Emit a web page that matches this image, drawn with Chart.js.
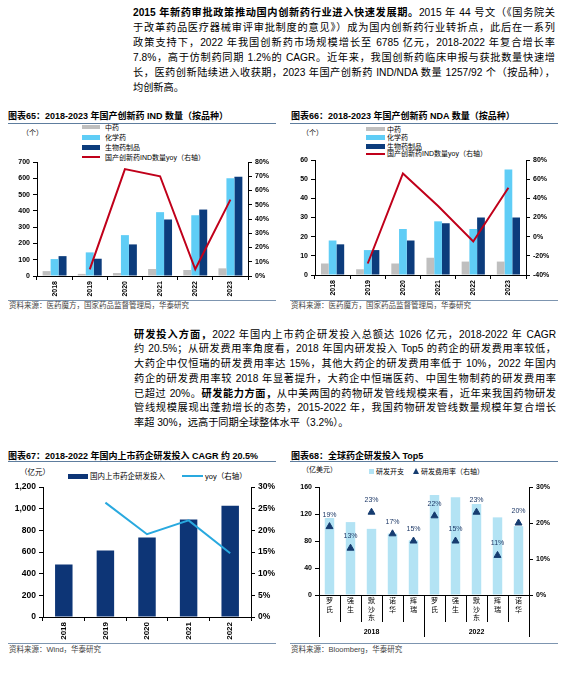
<!DOCTYPE html>
<html><head><meta charset="utf-8">
<script src="https://cdn.jsdelivr.net/npm/chart.js@4/dist/chart.umd.min.js"></script>
<style>
html,body{margin:0;padding:0;background:#fff;}
body{width:586px;height:681px;position:relative;overflow:hidden;font-family:'Liberation Sans','Noto Sans CJK SC',sans-serif;color:#000;}
.para{position:absolute;font-size:10.2px;}
.para div{height:15px;line-height:15px;text-align:justify;text-align-last:justify;}
.para div.last{text-align-last:left;}
.title{position:absolute;font-size:9px;font-weight:bold;white-space:nowrap;line-height:11px;}
.tline{position:absolute;height:1.5px;background:#5e7d9e;width:268px;}
.sline{position:absolute;height:1px;background:#7d95b0;width:268px;}
.src{position:absolute;font-size:7.5px;color:#444;white-space:nowrap;line-height:9px;}
.leg{position:absolute;font-size:7px;white-space:nowrap;line-height:9px;}
.sw{position:absolute;}
canvas{position:absolute;}
</style></head>
<body>
<div class="para" style="left:133px;top:4.5px;width:422px;">
<div><b>2015 年新药审批政策推动国内创新药行业进入快速发展期。</b>2015 年 44 号文（《国务院关</div>
<div>于改革药品医疗器械审评审批制度的意见》）成为国内创新药行业转折点，此后在一系列</div>
<div>政策支持下，2022 年我国创新药市场规模增长至 6785 亿元，2018-2022 年复合增长率</div>
<div>7.8%，高于仿制药同期 1.2%的 CAGR。近年来，我国创新药临床申报与获批数量快速增</div>
<div>长，医药创新陆续进入收获期，2023 年国产创新药 IND/NDA 数量 1257/92 个（按品种），</div>
<div class="last">均创新高。</div>
</div>

<div class="para" style="left:134px;top:327.5px;width:422px;">
<div style="height:14.8px;line-height:14.8px;"><b>研发投入方面，</b>2022 年国内上市药企研发投入总额达 1026 亿元，2018-2022 年 CAGR</div>
<div style="height:14.8px;line-height:14.8px;">约 20.5%；从研发费用率角度看，2018 年国内研发投入 Top5 的药企的研发费用率较低，</div>
<div style="height:14.8px;line-height:14.8px;">大药企中仅恒瑞的研发费用率达 15%，其他大药企的研发费用率低于 10%，2022 年国内</div>
<div style="height:14.8px;line-height:14.8px;">药企的研发费用率较 2018 年显著提升，大药企中恒瑞医药、中国生物制药的研发费用率</div>
<div style="height:14.8px;line-height:14.8px;">已超过 20%。<b>研发能力方面，</b>从中美两国的药物研发管线规模来看，近年来我国药物研发</div>
<div style="height:14.8px;line-height:14.8px;">管线规模展现出蓬勃增长的态势，2015-2022 年，我国药物研发管线数量规模年复合增长</div>
<div class="last" style="height:14.8px;line-height:14.8px;">率超 30%，远高于同期全球整体水平（3.2%）。</div>
</div>

<!-- Chart 65 frame -->
<div class="title" style="left:8px;top:110.5px;">图表65：2018-2023 年国产创新药 IND 数量（按品种）</div>
<div class="tline" style="left:8px;top:122.5px;"></div>
<div class="sline" style="left:8px;top:299.5px;"></div>
<div class="src" style="left:9px;top:301px;">资料来源：医药魔方，国家药品监督管理局，华泰研究</div>
<div class="leg" style="left:22px;top:127.5px;">（个）</div>
<div class="sw" style="left:82px;top:125px;width:18px;height:4px;background:#bfbfbf;"></div>
<div class="leg" style="left:105px;top:122.5px;">中药</div>
<div class="sw" style="left:82px;top:134.5px;width:18px;height:5px;background:#5fcdf6;"></div>
<div class="leg" style="left:105px;top:132.5px;">化学药</div>
<div class="sw" style="left:82px;top:144.5px;width:18px;height:5px;background:#0c3c7c;"></div>
<div class="leg" style="left:105px;top:142.5px;">生物药制品</div>
<div class="sw" style="left:82px;top:156px;width:18px;height:2px;background:#c0001a;"></div>
<div class="leg" style="left:105px;top:152.5px;">国产创新药IND数量yoy（右轴）</div>
<canvas id="c65" width="290" height="175" style="left:0px;top:125px;width:290px;height:175px;"></canvas>

<!-- Chart 66 frame -->
<div class="title" style="left:291px;top:110.5px;">图表66：2018-2023 年国产创新药 NDA 数量（按品种）</div>
<div class="tline" style="left:290px;top:122.5px;"></div>
<div class="sline" style="left:290px;top:299.5px;"></div>
<div class="src" style="left:291px;top:301px;">资料来源：医药魔方，国家药品监督管理局，华泰研究</div>
<div class="leg" style="left:302px;top:127.5px;">（个）</div>
<div class="sw" style="left:366px;top:127px;width:19px;height:4px;background:#bfbfbf;"></div>
<div class="leg" style="left:387px;top:124.5px;">中药</div>
<div class="sw" style="left:366px;top:135px;width:19px;height:5px;background:#5fcdf6;"></div>
<div class="leg" style="left:387px;top:133px;">化学药</div>
<div class="sw" style="left:366px;top:143.5px;width:19px;height:5px;background:#0c3c7c;"></div>
<div class="leg" style="left:387px;top:141.5px;">生物药制品</div>
<div class="sw" style="left:366px;top:152.5px;width:19px;height:2px;background:#c0001a;"></div>
<div class="leg" style="left:387px;top:149px;">国产创新药IND数量yoy（右轴）</div>
<canvas id="c66" width="296" height="175" style="left:290px;top:125px;width:296px;height:175px;"></canvas>

<!-- Chart 67 frame -->
<div class="title" style="left:8px;top:450.5px;">图表67：2018-2022 年国内上市药企研发投入 CAGR 约 20.5%</div>
<div class="tline" style="left:8px;top:460.5px;"></div>
<div class="sline" style="left:8px;top:642.5px;"></div>
<div class="src" style="left:9px;top:644.5px;">资料来源：Wind，华泰研究</div>
<div class="leg" style="left:20px;top:467.5px;font-size:7.5px;">（亿元）</div>
<div class="sw" style="left:68px;top:473.5px;width:20px;height:5px;background:#0d3576;"></div>
<div class="leg" style="left:90px;top:471.5px;font-size:7.5px;">国内上市药企研发投入</div>
<div class="sw" style="left:182px;top:475px;width:21px;height:2px;background:#29a9df;"></div>
<div class="leg" style="left:205px;top:471.5px;font-size:7.5px;">yoy（右轴）</div>
<canvas id="c67" width="290" height="179" style="left:0px;top:463px;width:290px;height:179px;"></canvas>

<!-- Chart 68 frame -->
<div class="title" style="left:291px;top:450.5px;">图表68：全球药企研发投入 Top5</div>
<div class="tline" style="left:290px;top:460.5px;"></div>
<div class="sline" style="left:290px;top:642.5px;"></div>
<div class="src" style="left:291px;top:644.5px;">资料来源：Bloomberg，华泰研究</div>
<div class="leg" style="left:302px;top:464.5px;">（亿美元）</div>
<div class="sw" style="left:369px;top:468.5px;width:5px;height:5px;background:#b3e3f4;"></div>
<div class="leg" style="left:376px;top:466.5px;">研发开支</div>
<div class="sw" style="left:413px;top:468px;width:0;height:0;border-left:3.5px solid transparent;border-right:3.5px solid transparent;border-bottom:6px solid #163c70;"></div>
<div class="leg" style="left:421px;top:466.5px;">研发费用率（右轴）</div>
<canvas id="c68" width="296" height="179" style="left:290px;top:463px;width:296px;height:179px;"></canvas>

<script>
// ---------- data ----------
const years65 = ['2018','2019','2020','2021','2022','2023'];
const tcm65  = [30, 13, 18, 43, 37, 47];
const chem65 = [104, 145, 251, 392, 373, 600];
const bio65  = [122, 106, 194, 347, 408, 610];
const yoy65  = [null, 4.7, 75, 70, 4.7, 53.6];

const years66 = ['2018','2019','2020','2021','2022','2023'];
const tcm66  = [6, 3, 6, 9, 7, 7];
const chem66 = [18, 13, 24, 28, 24, 55];
const bio66  = [16, 13, 18, 27, 30, 30];
const yoy66  = [null, -28, 66, 32, -5, 51];

const years67 = ['2018','2019','2020','2021','2022'];
const rd67  = [485, 615, 735, 900, 1026];
const yoy67 = [null, 26.4, 19.1, 22.3, 14.7];

const companies68 = [['罗','氏'],['强','生'],['默','沙','东'],['诺','华'],['辉','瑞'],
                     ['罗','氏'],['强','生'],['默','沙','东'],['辉','瑞'],['诺','华']];
const groupYear68 = ['2018','2018','2018','2018','2018','2022','2022','2022','2022','2022'];
const spend68 = [114, 108, 98, 91, 81, 148, 145, 135, 115, 102];
const ratio68 = [19, 13, 23, 17, 15, 22, 15, 23, 11, 20];

// ---------- common ----------
const FONT = "'Liberation Sans','Noto Sans CJK SC',sans-serif";
Chart.defaults.font.family = FONT;
Chart.defaults.color = '#000';
Chart.defaults.animation = false;
Chart.defaults.plugins.legend.display = false;
Chart.defaults.plugins.tooltip.enabled = false;

const GRAY = '#bfbfbf', LBLUE = '#5fcdf6', NAVY = '#0c3c7c', RED = '#c0001a';

function xCat(h, fs){
  return {type:'category', offset:true,
    grid:{offset:true, drawOnChartArea:false, tickLength:4, color:'#000'},
    border:{color:'#000'},
    ticks:{minRotation:90, maxRotation:90, autoSkip:false, padding:1, font:{size:fs||7, weight:'bold'}},
    afterFit:s=>{s.height=h;}};
}
function yLin(min, max, step, w, cb, pos, fs){
  return {type:'linear', position:pos||'left', min:min, max:max,
    grid:{drawOnChartArea:false, tickLength:4, color:'#000'},
    border:{color:'#000'},
    ticks:{stepSize:step, callback:cb, padding:3, font:{size:fs||7, weight:'bold'}},
    afterFit:s=>{s.width=w;}};
}
const pct = v => v + '%';

// ---------- chart 65 ----------
new Chart(document.getElementById('c65'), {
  type:'bar',
  data:{labels:years65, datasets:[
    {type:'line', data:yoy65, yAxisID:'y1', borderColor:RED, borderWidth:2, pointRadius:0, order:0},
    {data:tcm65, backgroundColor:GRAY, order:1},
    {data:chem65, backgroundColor:LBLUE, order:1},
    {data:bio65, backgroundColor:NAVY, order:1}
  ]},
  options:{responsive:false, layout:{padding:{top:37,left:0,right:0,bottom:0}},
    datasets:{bar:{categoryPercentage:0.68, barPercentage:1}},
    scales:{x:xCat(24), y:yLin(0,700,100,37,v=>v), y1:yLin(0,80,10,42,pct,'right')}}
});

// ---------- chart 66 ----------
new Chart(document.getElementById('c66'), {
  type:'bar',
  data:{labels:years66, datasets:[
    {type:'line', data:yoy66, yAxisID:'y1', borderColor:RED, borderWidth:2, pointRadius:0, order:0},
    {data:tcm66, backgroundColor:GRAY, order:1},
    {data:chem66, backgroundColor:LBLUE, order:1},
    {data:bio66, backgroundColor:NAVY, order:1}
  ]},
  options:{responsive:false, layout:{padding:{top:35,left:0,right:0,bottom:0}},
    datasets:{bar:{categoryPercentage:0.66, barPercentage:1}},
    scales:{x:xCat(25), y:yLin(0,60,10,25,v=>v), y1:yLin(-40,80,20,60,pct,'right')}}
});

// ---------- chart 67 ----------
new Chart(document.getElementById('c67'), {
  type:'bar',
  data:{labels:years67, datasets:[
    {type:'line', data:yoy67, yAxisID:'y1', borderColor:'#29a9df', borderWidth:2, pointRadius:0, order:0},
    {data:rd67, backgroundColor:'#0d3576', order:1}
  ]},
  options:{responsive:false, layout:{padding:{top:24,left:0,right:0,bottom:0}},
    datasets:{bar:{categoryPercentage:0.42, barPercentage:1}},
    scales:{x:xCat(25, 8), y:yLin(0,1200,200,43,v=>v.toLocaleString('en-US'),'left',8.5),
            y1:yLin(0,30,5,39,pct,'right',8.5)}}
});

// ---------- chart 68 ----------
const groupLabels68 = groupYear68.map((g,i)=>{
  const idx = groupYear68.map((v,j)=>v===g?j:-1).filter(j=>j>=0);
  return i === idx[Math.floor(idx.length/2)] ? g : '';
});
const sepPlugin = {id:'sep', afterDraw(chart){
  const x = chart.scales.x, ctx = chart.ctx, n = companies68.length, bot = chart.chartArea.bottom;
  ctx.save(); ctx.strokeStyle = '#000'; ctx.lineWidth = 1;
  for (let i = 0; i <= n; i++){
    let px;
    if (i === 0) px = x.left; else if (i === n) px = x.right;
    else px = (x.getPixelForTick(i-1) + x.getPixelForTick(i)) / 2;
    const isGroup = (i === 0 || i === n || groupYear68[i] !== groupYear68[i-1]);
    const len = isGroup ? 42 : 27;
    ctx.beginPath(); ctx.moveTo(Math.round(px)+0.5, bot); ctx.lineTo(Math.round(px)+0.5, bot+len); ctx.stroke();
  }
  ctx.restore();
}};
const lblPlugin = {id:'lbl', afterDatasetsDraw(chart){
  const meta = chart.getDatasetMeta(0), ctx = chart.ctx;
  ctx.save(); ctx.fillStyle = '#1f3a68'; ctx.font = "7px " + FONT;
  ctx.textAlign = 'center'; ctx.textBaseline = 'middle';
  meta.data.forEach((p,i)=>ctx.fillText(ratio68[i] + '%', p.x, p.y - 12));
  ctx.restore();
}};
new Chart(document.getElementById('c68'), {
  type:'bar',
  data:{labels:companies68, datasets:[
    {type:'line', data:ratio68, yAxisID:'y1', showLine:false, pointStyle:'triangle', pointRadius:4,
     backgroundColor:'#163c70', borderColor:'#163c70', borderWidth:1, order:0},
    {data:spend68, backgroundColor:'#b3e3f4', order:1}
  ]},
  options:{responsive:false, layout:{padding:{top:24,left:0,right:0,bottom:0}},
    datasets:{bar:{categoryPercentage:0.45, barPercentage:1}},
    scales:{
      x:{type:'category', offset:true, weight:0, grid:{display:false, drawTicks:false}, border:{color:'#000'},
         ticks:{autoSkip:false, minRotation:0, maxRotation:0, padding:2, font:{size:7, lineHeight:1.2}},
         afterFit:s=>{s.height=28;}},
      x2:{type:'category', position:'bottom', offset:true, weight:1, labels:groupLabels68,
          grid:{display:false, drawTicks:false}, border:{display:false},
          ticks:{autoSkip:false, minRotation:0, maxRotation:0, padding:5, font:{size:7, weight:'bold'}},
          afterFit:s=>{s.height=19;}},
      y:yLin(0,160,40,29,v=>v),
      y1:yLin(0,30,10,57,pct,'right')
    }},
  plugins:[sepPlugin, lblPlugin]
});
</script>
</body></html>
